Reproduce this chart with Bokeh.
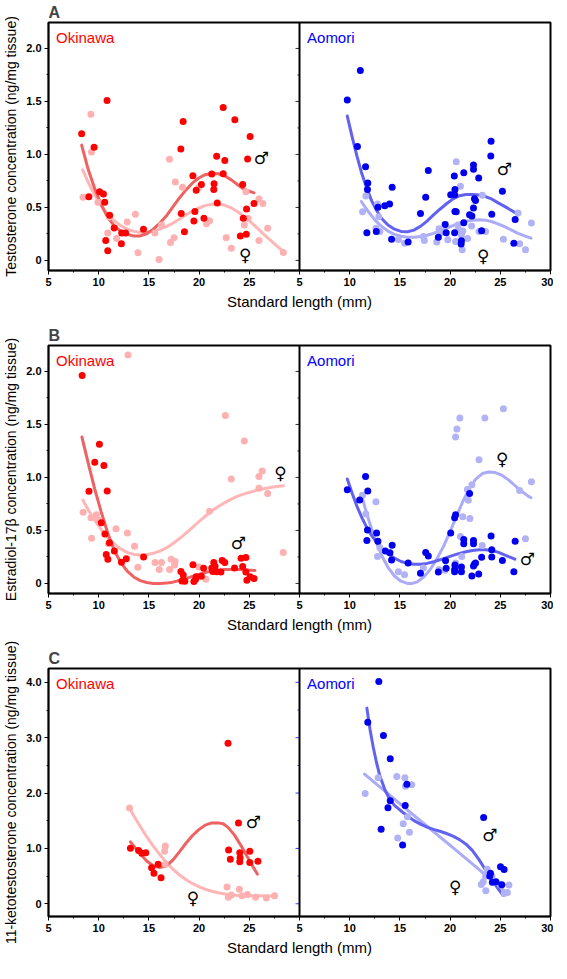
import numpy as np
from bokeh.plotting import figure
from bokeh.models import Range1d, FixedTicker, CustomJSTickFormatter, Span, Label
from bokeh.layouts import column
from bokeh.embed import file_html
from bokeh.resources import INLINE
from bokeh.core.properties import value

# ---------------- shared axis definitions ----------------
X_LO, X_HI = 5, 30
X_TICKS = [5, 10, 15, 20, 25, 30]
X_MINOR = [7.5, 12.5, 17.5, 22.5, 27.5]
Y_TICKS_AB = [0, 0.5, 1.0, 1.5, 2.0]
Y_MINOR_AB = [0.25, 0.75, 1.25, 1.75]
Y_TICKS_C = [0, 1, 2, 3, 4]
Y_MINOR_C = [0.5, 1.5, 2.5, 3.5]
Y_RANGE_AB = (-0.095, 2.245)
Y_RANGE_C = (-0.23, 4.25)
SITES = ["Okinawa", "Aomori"]
X_TITLE = "Standard length (mm)"
Y_TITLES = ["Testosterone concentration (ng/mg tissue)",
            "Estradiol-17\u03b2 concentration (ng/mg tissue)",
            "11-ketotestosterone concentration (ng/mg tissue)"]
LETTERS = ["A", "B", "C"]

# ---------------- A: testosterone, Okinawa ----------------
A_OKI_M_X = [8.30, 9.54, 9.02, 10.83, 10.09, 10.47, 10.60, 11.09, 10.70, 10.90, 11.54, 12.29, 12.68, 12.26,
             14.46, 18.18, 18.41, 18.22, 18.54, 19.38, 19.71, 20.23, 19.58, 19.48, 20.48, 21.26, 21.49, 21.46,
             21.75, 21.81, 22.40, 22.40, 22.56, 23.56, 24.11, 24.34, 24.40, 24.73, 24.70, 24.83, 25.08, 25.47]
A_OKI_M_Y = [1.195, 1.067, 0.600, 1.508, 0.647, 0.626, 0.550, 0.426, 0.188, 0.091, 0.307, 0.258, 0.258, 0.158,
             0.295, 1.052, 1.310, 0.444, 0.271, 0.799, 0.663, 0.717, 0.462, 0.371, 0.398, 0.815, 0.723, 0.669,
             0.982, 0.541, 1.444, 0.818, 0.942, 1.328, 0.231, 0.717, 0.398, 0.486, 0.246, 0.957, 1.170, 0.538]
A_OKI_F_X = [8.44, 9.22, 9.28, 9.92, 10.90, 11.07, 11.78, 12.84, 13.65, 13.91, 15.59, 16.01, 16.27, 17.05,
             17.63, 18.35, 17.15, 17.50, 19.97, 21.04, 20.74, 22.69, 23.21, 24.50, 24.66, 24.89, 25.96, 25.96,
             26.35, 26.83, 28.39]
A_OKI_F_Y = [0.596, 1.380, 1.024, 0.550, 0.258, 0.410, 0.207, 0.362, 0.435, 0.073, 0.258, 0.009, 0.334, 0.954,
             0.739, 0.690, 0.170, 0.213, 0.687, 0.374, 0.347, 0.213, 0.115, 0.334, 0.647, 0.395, 0.188, 0.580,
             0.538, 0.304, 0.076]
A_OKI_M_FIT_X = [8.30, 8.95, 9.60, 10.25, 10.90, 11.54, 12.19, 12.84, 13.49, 14.14, 14.78, 15.43, 16.08, 16.73,
                 17.37, 18.02, 18.67, 19.32, 19.97, 20.61, 21.26, 21.91, 22.56, 23.21, 23.85, 24.50, 25.47]
A_OKI_M_FIT_Y = [1.088, 0.860, 0.678, 0.526, 0.404, 0.328, 0.277, 0.246, 0.231, 0.231, 0.252, 0.295, 0.350, 0.419,
                 0.502, 0.587, 0.663, 0.729, 0.778, 0.809, 0.821, 0.818, 0.796, 0.760, 0.714, 0.669, 0.638]
A_OKI_F_FIT_X = [8.40, 8.95, 9.60, 10.25, 10.90, 11.54, 12.19, 12.84, 13.49, 14.14, 14.78, 15.43, 16.08, 16.73,
                 17.37, 18.02, 18.67, 19.32, 19.97, 20.61, 21.26, 21.91, 22.56, 23.21, 23.85, 24.50, 25.15, 25.80,
                 26.44, 27.09, 27.74, 28.39]
A_OKI_F_FIT_Y = [0.854, 0.739, 0.617, 0.517, 0.435, 0.374, 0.328, 0.295, 0.274, 0.264, 0.264, 0.277, 0.295, 0.319,
                 0.350, 0.389, 0.429, 0.465, 0.495, 0.517, 0.529, 0.532, 0.520, 0.495, 0.459, 0.413, 0.362, 0.304,
                 0.246, 0.191, 0.137, 0.085]

# ---------------- A: testosterone, Aomori ----------------
A_AOM_M_X = [9.76, 11.06, 10.77, 11.58, 11.80, 11.77, 11.71, 12.81, 13.49, 13.97, 14.23, 14.17, 12.65, 15.82,
             17.05, 17.57, 17.83, 18.83, 19.51, 19.61, 20.06, 20.45, 20.48, 20.42, 20.48, 20.61, 20.45, 21.13,
             21.10, 21.36, 21.36, 21.94, 22.17, 22.33, 22.33, 22.33, 22.43, 22.53, 22.85, 23.14, 24.08, 24.05,
             24.15, 25.21, 26.48, 26.35]
A_AOM_M_Y = [1.514, 1.793, 1.076, 0.884, 0.730, 0.669, 0.261, 0.502, 0.517, 0.532, 0.690, 0.201, 0.274, 0.173,
             0.444, 0.596, 0.848, 0.219, 0.340, 0.261, 0.620, 0.620, 0.669, 0.796, 0.462, 0.459, 0.261, 0.185,
             0.155, 0.356, 0.827, 0.432, 0.419, 0.900, 0.860, 0.495, 0.581, 0.565, 0.778, 0.280, 1.125, 0.985,
             0.435, 0.653, 0.386, 0.161]
A_AOM_F_X = [11.61, 11.28, 12.77, 12.90, 12.61, 13.00, 14.85, 15.46, 17.34, 17.44, 18.67, 18.90, 18.99, 19.77,
             20.61, 21.03, 20.55, 20.84, 21.13, 21.20, 21.75, 22.14, 20.78, 21.26, 23.21, 23.53, 22.88, 25.31,
             26.77, 26.93, 27.51, 28.10]
A_AOM_F_Y = [0.608, 0.459, 0.532, 0.413, 0.304, 0.274, 0.198, 0.161, 0.225, 0.188, 0.173, 0.298, 0.258, 0.195,
             0.930, 0.699, 0.179, 0.289, 0.237, 0.100, 0.207, 0.325, 0.334, 0.277, 0.614, 0.274, 0.274, 0.200,
             0.447, 0.158, 0.100, 0.353]
A_AOM_M_FIT_X = [9.76, 10.25, 10.73, 11.22, 11.71, 12.19, 12.68, 13.16, 13.81, 14.46, 15.11, 15.75, 16.40, 17.05,
                 17.70, 18.35, 18.99, 19.64, 20.29, 20.94, 21.59, 22.23, 22.88, 23.53, 24.18, 24.83, 25.47, 26.12,
                 26.61]
A_AOM_M_FIT_Y = [1.362, 1.164, 0.982, 0.815, 0.678, 0.562, 0.471, 0.398, 0.334, 0.295, 0.274, 0.271, 0.286, 0.322,
                 0.371, 0.429, 0.483, 0.535, 0.581, 0.611, 0.623, 0.623, 0.617, 0.602, 0.578, 0.541, 0.508, 0.471,
                 0.444]
A_AOM_F_FIT_X = [11.15, 11.87, 12.52, 13.16, 13.81, 14.46, 15.11, 15.75, 16.40, 17.05, 17.70, 18.35, 18.99, 19.64,
                 20.29, 20.94, 21.59, 22.23, 22.88, 23.53, 24.18, 24.83, 25.47, 26.12, 26.77, 27.42, 28.06]
A_AOM_F_FIT_Y = [0.556, 0.459, 0.380, 0.322, 0.277, 0.246, 0.228, 0.219, 0.219, 0.225, 0.237, 0.255, 0.280, 0.304,
                 0.328, 0.353, 0.371, 0.380, 0.383, 0.380, 0.365, 0.343, 0.316, 0.286, 0.255, 0.231, 0.210]

# ---------------- B: estradiol-17beta, Okinawa ----------------
B_OKI_M_X = [8.35, 9.03, 9.61, 10.07, 10.52, 10.85, 10.26, 10.62, 11.07, 10.75, 10.91, 11.56, 12.27, 12.75,
             14.47, 18.19, 18.29, 18.42, 18.58, 19.39, 19.48, 19.71, 19.65, 20.23, 20.45, 21.26, 21.46, 21.59,
             21.75, 21.36, 22.17, 22.30, 22.56, 23.53, 24.18, 24.66, 24.34, 24.66, 24.76, 25.08, 25.47]
B_OKI_M_Y = [1.963, 0.869, 1.143, 1.314, 1.113, 0.872, 0.573, 0.466, 0.384, 0.274, 0.229, 0.305, 0.201, 0.232,
             0.250, 0.113, 0.024, 0.079, 0.021, 0.177, 0.018, 0.064, 0.040, 0.067, 0.143, 0.146, 0.198, 0.162,
             0.110, 0.113, 0.107, 0.216, 0.198, 0.146, 0.238, 0.244, 0.159, 0.107, 0.030, 0.064, 0.046]
B_OKI_F_X = [12.92, 8.45, 9.23, 9.77, 9.29, 9.94, 11.72, 10.97, 12.86, 13.57, 13.90, 15.61, 16.03, 16.25,
             17.06, 17.22, 17.61, 17.55, 19.97, 20.68, 21.04, 22.62, 23.20, 24.50, 25.96, 26.28, 25.96, 26.83,
             28.38]
B_OKI_F_Y = [2.155, 0.671, 0.619, 0.649, 0.427, 0.598, 0.515, 0.375, 0.476, 0.351, 0.152, 0.198, 0.131, 0.198,
             0.131, 0.229, 0.207, 0.174, 0.155, 0.040, 0.680, 1.585, 0.985, 1.345, 1.009, 1.061, 0.899, 0.848,
             0.293]
B_OKI_M_FIT_X = [8.33, 8.95, 9.60, 10.25, 10.90, 11.54, 12.19, 12.84, 13.49, 14.14, 14.78, 15.43, 16.08, 16.73,
                 17.37, 18.02, 18.67, 19.32, 19.97, 20.61, 21.26, 21.91, 22.56, 23.21, 23.85, 24.50, 25.15, 25.57]
B_OKI_M_FIT_Y = [1.381, 1.137, 0.893, 0.674, 0.476, 0.314, 0.198, 0.116, 0.061, 0.027, 0.009, 0.000, 0.000, 0.003,
                 0.012, 0.027, 0.046, 0.067, 0.085, 0.104, 0.116, 0.125, 0.131, 0.131, 0.131, 0.128, 0.125, 0.122]
B_OKI_F_FIT_X = [8.42, 8.95, 9.60, 10.25, 10.90, 11.54, 12.19, 12.84, 13.49, 14.14, 14.78, 15.43, 16.08, 16.73,
                 17.37, 18.02, 18.67, 19.32, 19.97, 20.61, 21.26, 21.91, 22.56, 23.21, 23.85, 24.50, 25.15, 25.80,
                 26.44, 27.09, 27.74, 28.39]
B_OKI_F_FIT_Y = [0.787, 0.695, 0.598, 0.509, 0.433, 0.372, 0.326, 0.293, 0.274, 0.268, 0.271, 0.284, 0.305, 0.335,
                 0.375, 0.421, 0.473, 0.527, 0.582, 0.634, 0.683, 0.726, 0.762, 0.796, 0.823, 0.845, 0.863, 0.881,
                 0.893, 0.905, 0.915, 0.921]

# ---------------- B: estradiol-17beta, Aomori ----------------
B_AOM_M_X = [9.76, 10.99, 11.58, 11.80, 11.77, 11.71, 12.68, 12.81, 13.55, 14.01, 14.23, 14.17, 15.82, 17.05,
             17.57, 17.83, 18.83, 19.55, 19.61, 20.06, 20.45, 20.55, 20.48, 20.45, 20.45, 21.13, 21.13, 21.36,
             21.36, 21.94, 22.17, 22.33, 22.33, 22.43, 22.33, 22.53, 22.85, 23.14, 24.08, 24.15, 24.15, 25.21,
             26.48, 26.35]
B_AOM_M_Y = [0.884, 0.787, 1.009, 0.872, 0.503, 0.405, 0.476, 0.399, 0.305, 0.290, 0.360, 0.220, 0.192, 0.095,
             0.293, 0.259, 0.107, 0.213, 0.143, 0.476, 0.619, 0.649, 0.174, 0.131, 0.110, 0.155, 0.110, 0.415,
             0.375, 0.848, 0.070, 0.405, 0.375, 0.183, 0.165, 0.192, 0.088, 0.247, 0.448, 0.317, 0.250, 0.216,
             0.399, 0.110]
B_AOM_F_X = [11.28, 11.61, 12.61, 12.77, 13.00, 14.85, 15.46, 17.34, 18.90, 19.48, 20.55, 20.68, 20.97, 20.55,
             21.16, 21.03, 21.26, 21.72, 21.81, 21.97, 22.17, 22.88, 23.20, 23.46, 25.31, 26.93, 27.51, 28.10]
B_AOM_F_Y = [0.832, 0.655, 0.771, 0.253, 0.338, 0.110, 0.082, 0.146, 0.131, 0.125, 1.381, 1.457, 1.561, 0.192,
             0.253, 0.442, 0.628, 0.887, 0.784, 0.613, 0.930, 1.168, 0.357, 1.561, 1.649, 0.878, 0.421, 0.960]
B_AOM_M_FIT_X = [9.76, 10.25, 10.73, 11.22, 11.71, 12.19, 12.68, 13.16, 13.81, 14.46, 15.11, 15.75, 16.40, 17.05,
                 17.70, 18.35, 18.99, 19.64, 20.29, 20.94, 21.59, 22.23, 22.88, 23.53, 24.18, 24.83, 25.47, 26.45]
B_AOM_M_FIT_Y = [0.985, 0.848, 0.726, 0.619, 0.527, 0.451, 0.387, 0.335, 0.280, 0.238, 0.207, 0.189, 0.180, 0.180,
                 0.189, 0.204, 0.223, 0.244, 0.265, 0.284, 0.299, 0.311, 0.317, 0.317, 0.311, 0.293, 0.268, 0.229]
B_AOM_F_FIT_X = [11.15, 11.54, 12.03, 12.52, 13.16, 13.81, 14.46, 15.11, 15.75, 16.24, 16.73, 17.37, 18.02, 18.67,
                 19.32, 19.97, 20.61, 21.26, 21.91, 22.56, 23.21, 23.85, 24.50, 25.15, 25.80, 26.45, 27.09, 27.74,
                 28.06]
B_AOM_F_FIT_Y = [0.848, 0.710, 0.558, 0.421, 0.268, 0.152, 0.070, 0.021, 0.000, 0.000, 0.015, 0.061, 0.131, 0.229,
                 0.345, 0.482, 0.628, 0.771, 0.893, 0.985, 1.037, 1.052, 1.046, 1.021, 0.979, 0.924, 0.872, 0.826,
                 0.808]

# ---------------- C: 11-ketotestosterone, Okinawa ----------------
C_OKI_M_X = [13.16, 13.97, 14.30, 14.69, 15.27, 15.50, 15.92, 16.21, 22.88, 22.94, 23.11, 23.92, 24.05, 24.08,
             24.05, 25.05, 25.05, 25.86]
C_OKI_M_Y = [1.001, 0.961, 0.914, 0.920, 0.652, 0.553, 0.716, 0.472, 2.900, 0.972, 0.803, 1.461, 0.920, 0.833,
             0.757, 0.949, 0.745, 0.769]
C_OKI_F_X = [13.07, 16.63, 16.56, 16.63, 22.78, 22.91, 23.20, 24.01, 24.27, 24.82, 25.63, 26.70, 27.51]
C_OKI_F_Y = [1.729, 1.042, 0.949, 0.716, 0.303, 0.116, 0.157, 0.262, 0.146, 0.169, 0.116, 0.105, 0.146]
C_OKI_M_FIT_X = [13.16, 13.49, 14.14, 14.78, 15.43, 16.08, 16.73, 17.37, 18.02, 18.67, 19.32, 19.97, 20.61, 21.26,
                 21.91, 22.40, 22.88, 23.53, 24.18, 24.82, 25.31, 25.80]
C_OKI_M_FIT_Y = [1.118, 1.042, 0.902, 0.774, 0.687, 0.652, 0.687, 0.786, 0.932, 1.089, 1.229, 1.339, 1.421, 1.461,
                 1.461, 1.444, 1.380, 1.240, 1.048, 0.844, 0.687, 0.536]
C_OKI_F_FIT_X = [13.00, 13.49, 14.14, 14.78, 15.43, 16.08, 16.73, 17.37, 18.02, 18.67, 19.32, 19.97, 20.61, 21.26,
                 21.91, 22.56, 23.21, 23.85, 24.50, 25.80, 27.58]
C_OKI_F_FIT_Y = [1.747, 1.590, 1.397, 1.211, 1.042, 0.891, 0.751, 0.629, 0.524, 0.437, 0.367, 0.309, 0.262, 0.227,
                 0.198, 0.175, 0.163, 0.151, 0.146, 0.146, 0.140]

# ---------------- C: 11-ketotestosterone, Aomori ----------------
C_AOM_M_X = [12.90, 11.80, 13.36, 14.04, 15.69, 14.04, 13.81, 15.53, 13.13, 15.27, 23.34, 25.02, 25.38, 24.02,
             23.95, 24.21, 24.57, 25.15]
C_AOM_M_Y = [4.017, 3.278, 3.039, 2.620, 2.160, 1.863, 1.735, 1.776, 1.345, 1.060, 1.560, 0.670, 0.617, 0.553,
             0.501, 0.390, 0.396, 0.344]
C_AOM_F_X = [11.54, 12.84, 14.69, 15.50, 15.56, 16.18, 15.75, 15.33, 15.95, 14.78, 23.11, 23.30, 23.53, 23.69,
             24.18, 23.56, 24.99, 25.38, 25.86, 25.70]
C_AOM_F_Y = [1.991, 2.277, 2.300, 2.277, 2.125, 2.148, 1.572, 1.444, 1.293, 1.188, 0.349, 0.396, 0.495, 0.623,
             0.495, 0.233, 0.349, 0.186, 0.338, 0.204]
C_AOM_M_FIT_X = [11.71, 12.03, 12.35, 12.68, 13.00, 13.49, 13.97, 14.46, 15.11, 15.75, 16.40, 17.05, 17.70, 18.35,
                 18.99, 19.64, 20.29, 20.94, 21.59, 22.23, 22.88, 23.53, 24.18, 24.83, 25.25]
C_AOM_M_FIT_Y = [3.534, 3.144, 2.824, 2.544, 2.312, 2.067, 1.892, 1.776, 1.677, 1.590, 1.502, 1.438, 1.386, 1.345,
                 1.310, 1.269, 1.223, 1.159, 1.077, 0.961, 0.798, 0.611, 0.425, 0.262, 0.157]
C_AOM_F_FIT_X = [11.48, 15.75, 20.94, 25.80]
C_AOM_F_FIT_Y = [2.341, 1.694, 0.914, 0.175]

# ---------------- sex symbol annotations (data coordinates) ----------------
SYM_MALE, SYM_FEMALE = "\u2642", "\u2640"
A_OKI_SYM = ([26.2, 24.6], [0.97, 0.05])
A_AOM_SYM = ([25.4, 23.3], [0.86, 0.04])
B_OKI_SYM = ([23.9, 28.1], [0.38, 1.04])
B_AOM_SYM = ([27.7, 25.2], [0.235, 1.17])
C_OKI_SYM = ([25.4, 19.4], [1.47, 0.10])
C_AOM_SYM = ([23.96, 20.5], [1.24, 0.30])

# ---------------- styles ----------------
FONT = "Liberation Sans"
OKI_M, OKI_F = "#ff0000", "#ffb0b0"
OKI_M_FIT, OKI_F_FIT = "#f06262", "#ffb6b6"
AOM_M, AOM_F = "#0000ee", "#b2b2f6"
AOM_M_FIT, AOM_F_FIT = "#6262f0", "#ababf7"
SITE_COLORS = ["#ff0000", "#0000ff"]
FRAME_W, FRAME_H = 502, 248
SPAN = X_HI - X_LO


def make_row(idx, y_rng, y_ticks, y_minor, left, right, border_tick_color):
    p = figure(frame_width=FRAME_W, frame_height=FRAME_H,
               x_range=Range1d(X_LO, X_HI + SPAN), y_range=Range1d(*y_rng),
               output_backend="svg", toolbar_location=None,
               min_border_left=45, min_border_right=3,
               min_border_top=(0 if idx == 0 else 31), min_border_bottom=44,
               background_fill_color="white", border_fill_color="white")
    p.extra_x_ranges = {"R": Range1d(X_LO - SPAN, X_HI)}
    p.xgrid.visible = False
    p.ygrid.visible = False
    p.outline_line_color = "black"
    p.outline_line_width = 2

    p.title.text = LETTERS[idx]
    p.title.text_font = FONT
    p.title.text_font_size = "16px"
    p.title.text_font_style = "bold"
    p.title.align = "left"
    p.title.standoff = 3

    xt = [t for t in X_TICKS if t < X_HI] + [t + SPAN for t in X_TICKS]
    xm = X_MINOR + [m + SPAN for m in X_MINOR]
    ax = p.xaxis[0]
    ax.ticker = FixedTicker(ticks=xt, minor_ticks=xm)
    ax.formatter = CustomJSTickFormatter(args=dict(hi=X_HI, span=SPAN),
                                         code="const v = tick >= hi - 1e-9 ? tick - span : tick; return Math.round(v).toString();")
    ax.axis_label = X_TITLE
    ax.axis_label_text_font_size = "15px"
    ax.axis_label_standoff = 4

    ay = p.yaxis[0]
    ay.ticker = FixedTicker(ticks=y_ticks, minor_ticks=y_minor)
    ay.formatter = CustomJSTickFormatter(code="return Math.abs(tick) < 1e-9 ? '0' : tick.toFixed(1);")
    ay.axis_label = Y_TITLES[idx]
    ay.axis_label_text_font_size = "14px"
    ay.axis_label_standoff = 4

    for a in (ax, ay):
        a.axis_label_text_font = FONT
        a.axis_label_text_font_style = "normal"
        a.axis_label_text_color = "black"
        a.major_label_text_font = FONT
        a.major_label_text_font_size = "11px"
        a.major_label_text_font_style = "bold"
        a.major_label_text_color = "black"
        a.major_label_standoff = 3
        a.axis_line_color = "black"
        a.axis_line_width = 1.5
        a.major_tick_in = 0
        a.major_tick_out = 4
        a.minor_tick_in = 0
        a.minor_tick_out = 2
        a.major_tick_line_color = "black"
        a.minor_tick_line_color = "black"

    # shared border between the two panels and its ticks
    p.add_layout(Span(location=X_HI, dimension="height", line_color="black", line_width=2))
    p.ray(x=[X_HI] * len(y_ticks), y=y_ticks, length=4, length_units="screen", angle=np.pi,
          line_color=border_tick_color, line_width=1)
    p.ray(x=[X_HI] * len(y_minor), y=y_minor, length=2, length_units="screen", angle=np.pi,
          line_color=border_tick_color, line_width=1)

    for k, (panel, rname) in enumerate(((left, "default"), (right, "R"))):
        (mx, my, fx, fy, mfx, mfy, ffx, ffy, sym, cols) = panel
        m_c, f_c, mfit_c, ffit_c = cols
        p.line(ffx, ffy, line_width=3, line_color=ffit_c, line_cap="round", line_join="round", x_range_name=rname)
        p.line(mfx, mfy, line_width=3, line_color=mfit_c, line_cap="round", line_join="round", x_range_name=rname)
        p.scatter(fx, fy, marker="circle", size=7, fill_color=f_c, line_color=None, x_range_name=rname)
        p.scatter(mx, my, marker="circle", size=7, fill_color=m_c, line_color=None, x_range_name=rname)
        p.text(x=sym[0], y=sym[1], text=[SYM_MALE, SYM_FEMALE], text_align="center", text_baseline="middle",
               text_font=value("DejaVu Sans"), text_font_size="17px", text_color="black", x_range_name=rname)
        y_top = y_rng[1] - 0.025 * (y_rng[1] - y_rng[0])
        p.add_layout(Label(x=X_LO + 0.75, y=y_top, text=SITES[k], text_color=SITE_COLORS[k],
                           text_font=FONT, text_font_size="15px", text_baseline="top", text_align="left",
                           x_range_name=rname))
    return p


OKI_COLS = (OKI_M, OKI_F, OKI_M_FIT, OKI_F_FIT)
AOM_COLS = (AOM_M, AOM_F, AOM_M_FIT, AOM_F_FIT)

pA = make_row(0, Y_RANGE_AB, Y_TICKS_AB, Y_MINOR_AB,
              (A_OKI_M_X, A_OKI_M_Y, A_OKI_F_X, A_OKI_F_Y, A_OKI_M_FIT_X, A_OKI_M_FIT_Y, A_OKI_F_FIT_X, A_OKI_F_FIT_Y, A_OKI_SYM, OKI_COLS),
              (A_AOM_M_X, A_AOM_M_Y, A_AOM_F_X, A_AOM_F_Y, A_AOM_M_FIT_X, A_AOM_M_FIT_Y, A_AOM_F_FIT_X, A_AOM_F_FIT_Y, A_AOM_SYM, AOM_COLS),
              "#333333")
pB = make_row(1, Y_RANGE_AB, Y_TICKS_AB, Y_MINOR_AB,
              (B_OKI_M_X, B_OKI_M_Y, B_OKI_F_X, B_OKI_F_Y, B_OKI_M_FIT_X, B_OKI_M_FIT_Y, B_OKI_F_FIT_X, B_OKI_F_FIT_Y, B_OKI_SYM, OKI_COLS),
              (B_AOM_M_X, B_AOM_M_Y, B_AOM_F_X, B_AOM_F_Y, B_AOM_M_FIT_X, B_AOM_M_FIT_Y, B_AOM_F_FIT_X, B_AOM_F_FIT_Y, B_AOM_SYM, AOM_COLS),
              "#333333")
pC = make_row(2, Y_RANGE_C, Y_TICKS_C, Y_MINOR_C,
              (C_OKI_M_X, C_OKI_M_Y, C_OKI_F_X, C_OKI_F_Y, C_OKI_M_FIT_X, C_OKI_M_FIT_Y, C_OKI_F_FIT_X, C_OKI_F_FIT_Y, C_OKI_SYM, OKI_COLS),
              (C_AOM_M_X, C_AOM_M_Y, C_AOM_F_X, C_AOM_F_Y, C_AOM_M_FIT_X, C_AOM_M_FIT_Y, C_AOM_F_FIT_X, C_AOM_F_FIT_Y, C_AOM_SYM, AOM_COLS),
              "#3a3aff")

layout = column(pA, pB, pC, spacing=0)
open("out.html", "w").write(file_html(layout, INLINE))
